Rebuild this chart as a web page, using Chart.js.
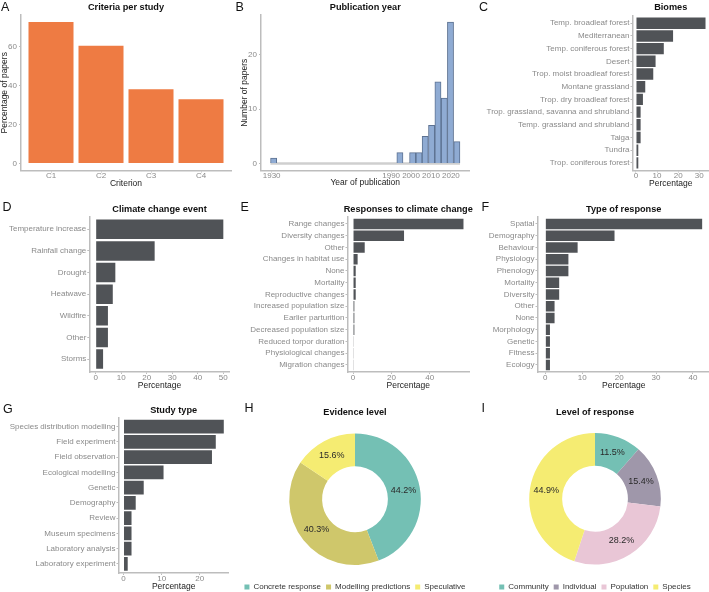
<!DOCTYPE html>
<html>
<head>
<meta charset="utf-8">
<script src="https://cdn.jsdelivr.net/npm/chart.js@4.4.1/dist/chart.umd.min.js"></script>
<style>
  html, body { margin: 0; padding: 0; background: #fff; }
  body { width: 709px; height: 592px; overflow: hidden; position: relative; font-family: "Liberation Sans", Arial, sans-serif; }
  canvas { position: absolute; }
  .tag { position: absolute; font-size: 12.5px; line-height: 13px; color: #111; }
</style>
</head>
<body>
<canvas id="cA" width="236" height="195" style="left:0;top:0"></canvas>
<canvas id="cB" width="236" height="195" style="left:236px;top:0"></canvas>
<canvas id="cC" width="237" height="195" style="left:472px;top:0"></canvas>
<canvas id="cD" width="236" height="195" style="left:0;top:195px"></canvas>
<canvas id="cE" width="240" height="195" style="left:236px;top:195px"></canvas>
<canvas id="cF" width="240" height="195" style="left:472px;top:195px"></canvas>
<canvas id="cG" width="236" height="202" style="left:0;top:390px"></canvas>
<canvas id="cH" width="240" height="211" style="left:235px;top:390px"></canvas>
<canvas id="cI" width="240" height="211" style="left:475px;top:390px"></canvas>

<div class="tag" style="left:1px;top:1px">A</div>
<div class="tag" style="left:235.5px;top:1px">B</div>
<div class="tag" style="left:479px;top:1px">C</div>
<div class="tag" style="left:2.5px;top:201px">D</div>
<div class="tag" style="left:240.5px;top:201px">E</div>
<div class="tag" style="left:481.5px;top:201px">F</div>
<div class="tag" style="left:3px;top:403px">G</div>
<div class="tag" style="left:244.5px;top:402px">H</div>
<div class="tag" style="left:481.5px;top:402px">I</div>

<script>
// A - criteria per study
const criteria = ['C1', 'C2', 'C3', 'C4'];
const criteriaPct = [72.7, 60.5, 38.2, 33.0];
const criteriaTicks = [0, 20, 40, 60];

// B - publication year histogram (bin mid-points of non-empty bins)
const yearBinMid = [1931.0, 1994.4, 2000.8, 2004.0, 2007.1, 2010.3, 2013.5, 2016.7, 2019.8, 2023.0];
const yearCounts = [1, 2, 2, 2, 5, 7, 15, 12, 26, 4];
const yearBinWidth = 3.17;
const yearTicks = [1930, 1990, 2000, 2010, 2020];
const countTicks = [0, 10, 20];

// C - biomes
const biomes = ['Temp. broadleaf forest', 'Mediterranean', 'Temp. coniferous forest', 'Desert',
  'Trop. moist broadleaf forest', 'Montane grassland', 'Trop. dry broadleaf forest',
  'Trop. grassland, savanna and shrubland', 'Temp. grassland and shrubland', 'Taiga', 'Tundra',
  'Trop. coniferous forest'];
const biomePct = [33.0, 17.6, 13.2, 9.3, 8.2, 4.4, 3.3, 2.2, 2.2, 2.2, 1.1, 1.1];
const biomeTicks = [0, 10, 20, 30];

// D - climate change event
const events = ['Temperature increase', 'Rainfall change', 'Drought', 'Heatwave', 'Wildfire', 'Other', 'Storms'];
const eventPct = [50.0, 23.1, 7.7, 6.7, 4.8, 4.8, 2.9];
const eventTicks = [0, 10, 20, 30, 40, 50];

// E - responses to climate change
const responses = ['Range changes', 'Diversity changes', 'Other', 'Changes in habitat use', 'None', 'Mortality',
  'Reproductive changes', 'Increased population size', 'Earlier parturition', 'Decreased population size',
  'Reduced torpor duration', 'Physiological changes', 'Migration changes'];
const responsePct = [57.6, 26.6, 6.1, 2.4, 1.4, 1.4, 1.4, 0.7, 0.7, 0.7, 0.35, 0.35, 0.35];
const responseTicks = [0, 20, 40];

// F - type of response
const respTypes = ['Spatial', 'Demography', 'Behaviour', 'Physiology', 'Phenology', 'Mortality', 'Diversity',
  'Other', 'None', 'Morphology', 'Genetic', 'Fitness', 'Ecology'];
const respTypePct = [42.5, 18.75, 8.75, 6.25, 6.25, 3.75, 3.75, 2.5, 2.5, 1.25, 1.25, 1.25, 1.25];
const respTypeTicks = [0, 10, 20, 30, 40];

// G - study type
const studyTypes = ['Species distribution modelling', 'Field experiment', 'Field observation', 'Ecological modelling',
  'Genetic', 'Demography', 'Review', 'Museum specimens', 'Laboratory analysis', 'Laboratory experiment'];
const studyPct = [26.3, 24.2, 23.2, 10.5, 5.3, 3.2, 2.1, 2.1, 2.1, 1.1];
const studyTicks = [0, 10, 20];

// H - evidence level
const evidence = ['Concrete response', 'Modelling predictions', 'Speculative'];
const evidencePct = [44.2, 40.3, 15.6];

// I - level of response
const levels = ['Community', 'Individual', 'Population', 'Species'];
const levelPct = [11.5, 15.4, 28.2, 44.9];

const FONT = '"Liberation Sans", Arial, Helvetica, sans-serif';
Chart.defaults.font.family = FONT;
Chart.defaults.animation = false;

const axisGrey = '#bdbdbd';
const tickGrey = '#8a8a8a';
const barGrey = '#505357';

// title centred over the plot panel, like ggplot does
const panelTitle = {
    id: 'panelTitle',
    afterDraw(chart, args, opts) {
        const { ctx, chartArea } = chart;
        ctx.save();
        ctx.font = 'bold 9.2px ' + FONT;
        ctx.fillStyle = '#111';
        ctx.textAlign = 'center';
        ctx.textBaseline = 'middle';
        ctx.fillText(opts.text, (chartArea.left + chartArea.right) / 2, opts.y);
        ctx.restore();
    }
};

const sliceLabels = {
    id: 'sliceLabels',
    afterDatasetsDraw(chart) {
        const { ctx } = chart;
        const values = chart.data.datasets[0].data;
        ctx.save();
        ctx.font = '9px ' + FONT;
        ctx.fillStyle = '#2a2a2a';
        ctx.textAlign = 'center';
        ctx.textBaseline = 'middle';
        chart.getDatasetMeta(0).data.forEach((arc, i) => {
            const p = arc.tooltipPosition();
            ctx.fillText(values[i].toFixed(1) + '%', p.x, p.y);
        });
        ctx.restore();
    }
};

function fixTicks(list) {
    return s => { s.ticks = list.map(v => ({ value: v })); };
}

function axisBase(ticks, labelFn, pad) {
    return {
        type: 'linear',
        bounds: 'data',
        offset: false,
        afterBuildTicks: fixTicks(ticks),
        grid: { display: true, drawOnChartArea: false, drawTicks: true, tickLength: 2, color: axisGrey, offset: false },
        border: { display: true, color: axisGrey, width: 1.5 },
        ticks: { font: { size: 8 }, color: tickGrey, padding: pad, maxRotation: 0, autoSkip: false,
                 callback: labelFn || (v => String(v)) }
    };
}

function axisTitle(text, padTop) {
    return { display: true, text: text, color: '#222', font: { size: 8.5, lineHeight: 1 },
             padding: { top: padTop || 0, bottom: 0 } };
}

// g: canvas size W,H and the wanted plot box (left,right,top,bottom) plus title / x-title centres
function layoutFor(g) {
    const xBottom = g.xTitleY + 4.25;
    return { padding: { left: 0, top: g.top, right: g.W - g.right, bottom: g.H - xBottom } };
}

function hbar(id, g, title, labels, values, ticks) {
    const n = labels.length;
    const vmax = Math.max(...values);
    const x = axisBase(ticks, null, -1.5);
    x.min = -vmax * 0.05;
    x.max = vmax * 1.05;
    x.title = axisTitle('Percentage');
    x.afterFit = s => { s.height = g.xTitleY + 4.25 - g.bottom; };
    const y = axisBase(labels.map((l, i) => i + 1), v => labels[v - 1], 1);
    y.reverse = true;
    y.min = 0.4;
    y.max = n + 0.6;
    y.afterFit = s => { s.width = g.left; };
    new Chart(document.getElementById(id), {
        type: 'bar',
        data: {
            datasets: [{
                data: values.map((v, i) => ({ x: v, y: i + 1 })),
                backgroundColor: barGrey,
                barPercentage: 0.9,
                categoryPercentage: 1
            }]
        },
        options: {
            indexAxis: 'y',
            responsive: false,
            layout: layoutFor(g),
            plugins: { legend: { display: false }, tooltip: { enabled: false }, panelTitle: { text: title, y: g.titleY } },
            scales: { x: x, y: y }
        },
        plugins: [panelTitle]
    });
}

// A
(function () {
    const g = { W: 236, H: 195, left: 21, right: 231, top: 15, bottom: 170.5, titleY: 7, xTitleY: 184 };
    const vmax = Math.max(...criteriaPct);
    const x = axisBase([1, 2, 3, 4], v => criteria[v - 1], -1.5);
    x.min = 0.4;
    x.max = criteria.length + 0.6;
    x.title = axisTitle('Criterion');
    x.afterFit = s => { s.height = g.xTitleY + 4.25 - g.bottom; };
    const y = axisBase(criteriaTicks, null, 2);
    y.min = -vmax * 0.05;
    y.max = vmax * 1.05;
    y.title = axisTitle('Percentage of papers', 0.75);
    y.afterFit = s => { s.width = g.left; };
    new Chart(document.getElementById('cA'), {
        type: 'bar',
        data: { datasets: [{ data: criteriaPct.map((v, i) => ({ x: i + 1, y: v })), backgroundColor: '#ee7b43',
                             barPercentage: 0.9, categoryPercentage: 1 }] },
        options: {
            responsive: false,
            layout: layoutFor(g),
            plugins: { legend: { display: false }, tooltip: { enabled: false }, panelTitle: { text: 'Criteria per study', y: g.titleY } },
            scales: { x: x, y: y }
        },
        plugins: [panelTitle]
    });
})();

// B
(function () {
    const g = { W: 236, H: 195, left: 25, right: 233.5, top: 15, bottom: 170.5, titleY: 7, xTitleY: 183 };
    const lo = yearBinMid[0] - yearBinWidth / 2;
    const hi = yearBinMid[yearBinMid.length - 1] + yearBinWidth / 2;
    const cmax = Math.max(...yearCounts);
    const x = axisBase(yearTicks, null, -1.5);
    x.min = lo - (hi - lo) * 0.05;
    x.max = hi + (hi - lo) * 0.05;
    x.title = axisTitle('Year of publication');
    x.afterFit = s => { s.height = g.xTitleY + 4.25 - g.bottom; };
    const y = axisBase(countTicks, null, 2);
    y.min = -cmax * 0.05;
    y.max = cmax * 1.05;
    y.title = axisTitle('Number of papers', 4.25);
    y.afterFit = s => { s.width = g.left; };
    new Chart(document.getElementById('cB'), {
        type: 'bar',
        data: {
            datasets: [
                { data: yearBinMid.map((m, i) => ({ x: m, y: yearCounts[i] })), backgroundColor: '#8fabd3',
                  borderColor: '#5d7292', borderWidth: 1, barPercentage: 1, categoryPercentage: 1, order: 1 },
                { type: 'line', data: [{ x: lo, y: 0 }, { x: hi, y: 0 }], borderColor: '#cfcfcf', borderWidth: 2.5,
                  pointRadius: 0, order: 2 }
            ]
        },
        options: {
            responsive: false,
            layout: layoutFor(g),
            plugins: { legend: { display: false }, tooltip: { enabled: false }, panelTitle: { text: 'Publication year', y: g.titleY } },
            scales: { x: x, y: y }
        },
        plugins: [panelTitle]
    });
})();

hbar('cC', { W: 237, H: 195, left: 160.5, right: 237, top: 15.6, bottom: 170.5, titleY: 7.3, xTitleY: 184 },
     'Biomes', biomes, biomePct, biomeTicks);
hbar('cD', { W: 236, H: 195, left: 89.3, right: 229.7, top: 21.3, bottom: 177, titleY: 14, xTitleY: 190.7 },
     'Climate change event', events, eventPct, eventTicks);
hbar('cE', { W: 240, H: 195, left: 111.5, right: 233, top: 21.9, bottom: 177, titleY: 14, xTitleY: 190.7 },
     'Responses to climate change', responses, responsePct, responseTicks);
hbar('cF', { W: 240, H: 195, left: 65.5, right: 238, top: 21.9, bottom: 177, titleY: 14, xTitleY: 190.7 },
     'Type of response', respTypes, respTypePct, respTypeTicks);
hbar('cG', { W: 236, H: 202, left: 118.5, right: 228.8, top: 27.5, bottom: 183, titleY: 20.7, xTitleY: 196.7 },
     'Study type', studyTypes, studyPct, studyTicks);

function donut(id, top, title, labels, values, colors) {
    new Chart(document.getElementById(id), {
        type: 'doughnut',
        data: { labels: labels, datasets: [{ data: values, backgroundColor: colors, borderWidth: 0, radius: 65.8 }] },
        options: {
            responsive: false,
            cutout: '50%',
            layout: { padding: { top: top, left: 0, right: 0, bottom: 0 } },
            plugins: {
                tooltip: { enabled: false },
                legend: { position: 'bottom', labels: { boxWidth: 5, boxHeight: 5, padding: 5, color: '#333', font: { size: 8 } } },
                panelTitle: { text: title, y: 22.7 }
            }
        },
        plugins: [panelTitle, sliceLabels]
    });
}

donut('cH', 30.4, 'Evidence level', evidence, evidencePct, ['#74c0b4', '#cfc76b', '#f5ec72']);
donut('cI', 29.4, 'Level of response', levels, levelPct, ['#74c0b4', '#9f97aa', '#e9c6d6', '#f5ec72']);
</script>
</body>
</html>
